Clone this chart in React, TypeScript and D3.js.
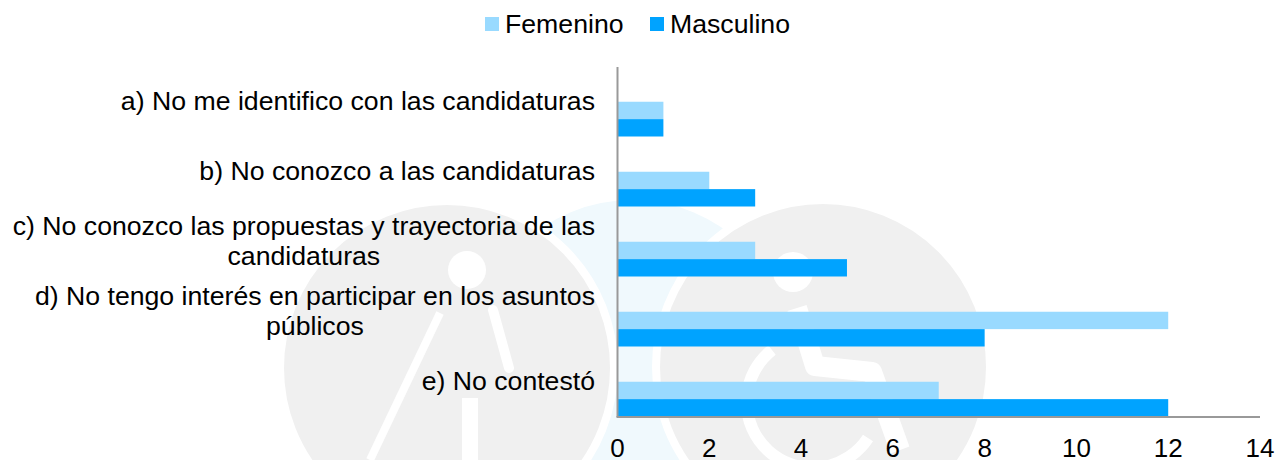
import React, { useEffect, useRef } from 'react';
import * as d3 from 'd3';

const WIDTH = 1277;
const HEIGHT = 460;

const categories = ['a', 'b', 'c', 'd', 'e'];
const categoryLines: string[][] = [
  ['a) No me identifico con las candidaturas'],
  ['b) No conozco a las candidaturas'],
  ['c) No conozco las propuestas y trayectoria de las', 'candidaturas'],
  ['d) No tengo interés en participar en los asuntos', 'públicos'],
  ['e) No contestó'],
];
const femenino = [1, 2, 3, 12, 7];
const masculino = [1, 3, 5, 8, 12];
const ticks = [0, 2, 4, 6, 8, 10, 12, 14];

const seriesNames = ['Femenino', 'Masculino'];
const seriesColors = ['#99daff', '#00a3ff'];
const seriesValues = [femenino, masculino];

const FONT = '"Liberation Sans", Arial, sans-serif';

const App = () => {
  const svgRef = useRef<SVGSVGElement | null>(null);

  useEffect(() => {
    const svg = d3.select(svgRef.current);
    svg.selectAll('*').remove();

    const x = d3.scaleLinear().domain([0, 14]).range([617.5, 1260]);
    const y = d3.scaleBand().domain(categories).range([67, 417]);
    // the two visible series sit in the lower half of each band
    const slot = d3.scaleBand().domain(['', ' ', ...seriesNames]).range([0, y.bandwidth() - 0.5]);

    // faint background watermark
    const mark = svg.append('g');
    mark.append('circle').attr('cx', 632).attr('cy', 360).attr('r', 160).attr('fill', '#f0f9fd');
    mark.append('circle').attr('cx', 447).attr('cy', 368).attr('r', 167).attr('fill', '#f0f0f0').attr('stroke', '#fff').attr('stroke-width', 8);
    mark.append('circle').attr('cx', 823).attr('cy', 367).attr('r', 167).attr('fill', '#f0f0f0').attr('stroke', '#fff').attr('stroke-width', 8);
    mark.append('circle').attr('cx', 467).attr('cy', 270).attr('r', 19).attr('fill', '#fff');
    mark.append('path').attr('d', 'M440,313L370,460').attr('stroke', '#fff').attr('stroke-width', 8).attr('fill', 'none');
    mark.append('path').attr('d', 'M493,310L509,368').attr('stroke', '#fff').attr('stroke-width', 10).attr('stroke-linecap', 'round').attr('fill', 'none');
    mark.append('path').attr('d', 'M470,398L470,460').attr('stroke', '#fff').attr('stroke-width', 16).attr('fill', 'none');
    mark.append('circle').attr('cx', 793).attr('cy', 272).attr('r', 20).attr('fill', '#fff');
    mark.append('path').attr('d', 'M797,308L815,366L872,372L900,450').attr('stroke', '#fff').attr('stroke-width', 20).attr('stroke-linejoin', 'round').attr('fill', 'none');
    mark.append('path').attr('d', 'M772,350A66,66 0 1 0 868,438').attr('stroke', '#fff').attr('stroke-width', 12).attr('fill', 'none');

    // bars
    seriesNames.forEach((name, s) => {
      svg.append('g')
        .selectAll('rect')
        .data(seriesValues[s])
        .enter()
        .append('rect')
        .attr('x', x(0))
        .attr('y', (d, i) => (y(categories[i]) as number) + (slot(name) as number))
        .attr('width', d => x(d) - x(0))
        .attr('height', slot.bandwidth())
        .attr('fill', seriesColors[s]);
    });

    // axes lines
    svg.append('line').attr('x1', x(0)).attr('x2', x(0)).attr('y1', 67).attr('y2', 417).attr('stroke', '#999').attr('stroke-width', 2);
    svg.append('line').attr('x1', x(0) - 1).attr('x2', x(14)).attr('y1', 417).attr('y2', 417).attr('stroke', '#999').attr('stroke-width', 2);

    // x tick labels
    svg.append('g')
      .selectAll('text')
      .data(ticks)
      .enter()
      .append('text')
      .attr('x', d => x(d))
      .attr('y', 457)
      .attr('text-anchor', 'middle')
      .attr('font-family', FONT)
      .attr('font-size', 26)
      .text(d => d);

    // category labels: right-aligned block, lines centred inside it
    categoryLines.forEach((lines, i) => {
      const center = (y(categories[i]) as number) + y.bandwidth() / 2;
      const lineHeight = 30;
      const text = svg.append('text')
        .attr('font-family', FONT)
        .attr('font-size', 26.67)
        .attr('text-anchor', 'middle');
      const spans = lines.map((line, j) =>
        text.append('tspan')
          .attr('y', center + 8 + (j - (lines.length - 1) / 2) * lineHeight)
          .text(line)
      );
      const first = (spans[0].node() as SVGTSpanElement).getComputedTextLength();
      spans.forEach(sp => sp.attr('x', 595 - first / 2));
    });

    // legend
    const legendX = [485, 650];
    seriesNames.forEach((name, s) => {
      svg.append('rect').attr('x', legendX[s]).attr('y', 17).attr('width', 14).attr('height', 14).attr('fill', seriesColors[s]);
      svg.append('text')
        .attr('x', legendX[s] + 20)
        .attr('y', 33)
        .attr('font-family', FONT)
        .attr('font-size', 26.67)
        .text(name);
    });
  }, []);

  return (
    <svg
      ref={svgRef}
      width={WIDTH}
      height={HEIGHT}
      style={{ position: 'absolute', left: 0, top: 0, background: '#fff' }}
    />
  );
};

export default App;
